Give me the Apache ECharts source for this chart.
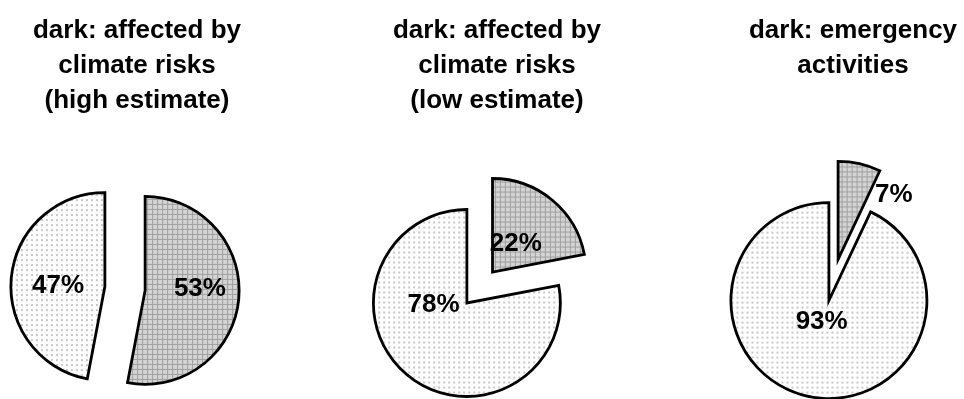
<!DOCTYPE html>
<html>
<head>
<meta charset="utf-8">
<script src="https://cdn.jsdelivr.net/npm/echarts@6/dist/echarts.min.js"></script>
<style>
  html, body { margin: 0; padding: 0; background: #ffffff; }
  #chart { width: 964px; height: 399px; }
</style>
</head>
<body>
<div id="chart"></div>
<script>
// Three exploded pies: share of the "dark" category against the rest.
const titles = [
  'dark: affected by\nclimate risks\n(high estimate)',
  'dark: affected by\nclimate risks\n(low estimate)',
  'dark: emergency\nactivities'
];
const darkShare = [53, 22, 7];
const lightShare = [47, 78, 93];

// Layout of each pie (centre x/y and radius in px) and its label nudges.
const pieCenters = [[125, 288.5], [479.7, 287.5], [833.5, 280]];
const pieRadii = [94, 93.5, 98];
const titleCenters = [132, 492, 848];
const labelNudge = [
  [[5, -6], [3, 4]],
  [[-8.5, 10.3], [-1.6, -36.3]],
  [[44.4, -14.3], [4.1, -29]]
];

const FONT = '"Liberation Sans", Arial, Helvetica, sans-serif';

// Dotted fill textures
function makePattern(bg, dot, size, dotSize) {
  const c = document.createElement('canvas');
  c.width = size; c.height = size;
  const g = c.getContext('2d');
  g.fillStyle = bg; g.fillRect(0, 0, size, size);
  g.fillStyle = dot; g.fillRect(1, 1, dotSize, dotSize);
  return c;
}
const lightTex = makePattern('#ffffff', '#c8c8c8', 5, 2);
const darkTex = (function () {
  const c = document.createElement('canvas');
  c.width = 5; c.height = 5;
  const g = c.getContext('2d');
  g.fillStyle = '#d4d4d4'; g.fillRect(0, 0, 5, 5);
  g.fillStyle = '#a0a0a0';
  g.fillRect(0, 2, 5, 1);
  g.fillRect(2, 0, 1, 5);
  return c;
})();

const chart = echarts.init(document.getElementById('chart'), null, { renderer: 'canvas' });

const title = titles.map((t, i) => ({
  text: t,
  left: titleCenters[i],
  top: 8,
  textAlign: 'center',
  textStyle: {
    fontFamily: FONT,
    fontWeight: 'bold',
    fontSize: 26,
    lineHeight: 35,
    color: '#000000'
  }
}));

const series = darkShare.map((d, i) => ({
  type: 'pie',
  center: pieCenters[i],
  radius: [0, pieRadii[i]],
  startAngle: 90,
  clockwise: true,
  selectedMode: 'multiple',
  selectedOffset: pieRadii[i] * 0.215,
  avoidLabelOverlap: false,
  silent: true,
  animation: false,
  emphasis: { disabled: true },
  select: { disabled: false, itemStyle: { borderColor: '#000', borderWidth: 2.8 } },
  itemStyle: { borderColor: '#000000', borderWidth: 2.8, borderJoin: 'miter' },
  label: {
    show: true,
    position: 'inside',
    formatter: '{c}%',
    fontFamily: FONT,
    fontWeight: 'bold',
    fontSize: 26,
    color: '#000000'
  },
  labelLine: { show: false },
  labelLayout: function (p) {
    const n = labelNudge[i][p.dataIndex];
    return { dx: n[0], dy: n[1] };
  },
  data: [
    { name: 'dark', value: d, selected: true, itemStyle: { color: { image: darkTex, repeat: 'repeat' } } },
    { name: 'other', value: lightShare[i], selected: true, itemStyle: { color: { image: lightTex, repeat: 'repeat' } } }
  ]
}));

chart.setOption({
  backgroundColor: '#ffffff',
  animation: false,
  title: title,
  series: series
});
</script>
</body>
</html>
